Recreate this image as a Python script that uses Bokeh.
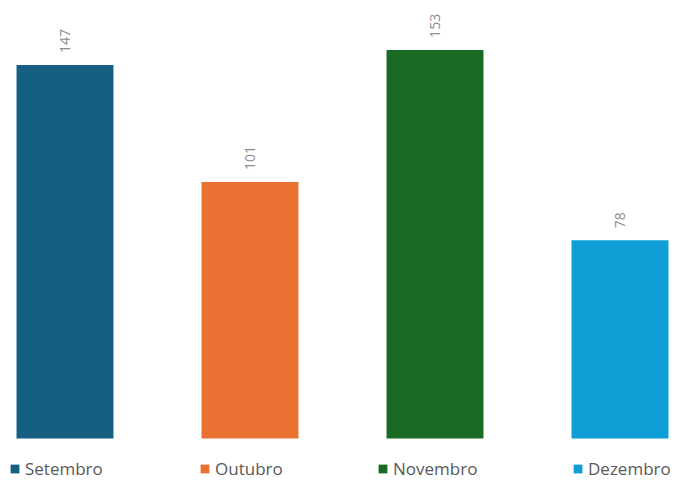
import math
from bokeh.plotting import figure
from bokeh.models import ColumnDataSource, Range1d, Legend, LegendItem
from bokeh.core.properties import value
from bokeh.embed import file_html
from bokeh.resources import INLINE

meses = ["Setembro", "Outubro", "Novembro", "Dezembro"]
valores = [147, 101, 153, 78]
cores = ["#156082", "#E97132", "#196B24", "#0F9ED5"]
rotulos = [str(v) for v in valores]

pos = list(range(len(meses)))

p = figure(width=670, height=480, output_backend="svg", toolbar_location=None,
           x_range=Range1d(-0.3486, 3.2730), y_range=Range1d(-16.54, 172.44),
           min_border=0, min_border_left=0, min_border_right=0,
           min_border_top=0, min_border_bottom=0)
p.axis.visible = False
p.xgrid.visible = False
p.ygrid.visible = False
p.outline_line_color = None
p.background_fill_color = "white"
p.border_fill_color = "white"

renderers = []
for i, m in enumerate(meses):
    src = ColumnDataSource(dict(x=[pos[i]], top=[valores[i]]))
    r = p.vbar(x="x", top="top", bottom=0, width=0.524, source=src,
               fill_color=cores[i], line_color=None)
    renderers.append(r)

lab_src = ColumnDataSource(dict(x=pos, y=valores, t=rotulos))
p.text(x="x", y="y", text="t", source=lab_src, angle=math.pi / 2,
       text_align="left", text_baseline="middle", y_offset=-12,
       text_color="#8c8c8c", text_font=value("Open Sans"), text_font_size="14px")

leg_x = [9, 199, 377, 572]
for i, m in enumerate(meses):
    leg = Legend(items=[LegendItem(label=m, renderers=[renderers[i]])],
                 location=(leg_x[i], 0), orientation="horizontal",
                 padding=0, margin=0, border_line_color=None,
                 background_fill_alpha=0,
                 glyph_width=11, glyph_height=11, label_standoff=5,
                 label_height=16,
                 label_text_font="Open Sans", label_text_font_size="17px",
                 label_text_color="#595959")
    p.add_layout(leg)

open("out.html", "w").write(file_html(p, INLINE))
